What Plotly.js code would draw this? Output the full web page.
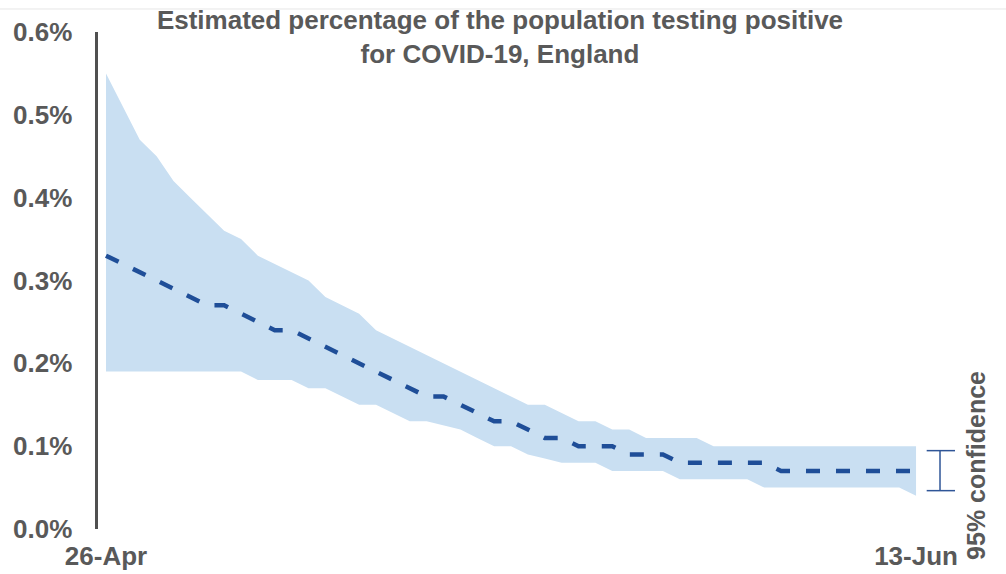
<!DOCTYPE html>
<html><head><meta charset="utf-8">
<script src="https://cdn.plot.ly/plotly-3.0.1.min.js"></script>
<style>html,body{margin:0;padding:0;background:#fff}#chart{width:1006px;height:574px}</style>
</head><body><div id="chart"></div>
<script>
// Daily estimates, 26-Apr to 13-Jun (% of population testing positive)
const upper = [0.55,0.51,0.47,0.45,0.42,0.40,0.38,0.36,0.35,0.33,0.32,0.31,0.30,0.28,0.27,0.26,0.24,0.23,0.22,0.21,
               0.20,0.19,0.18,0.17,0.16,0.15,0.15,0.14,0.13,0.13,0.12,0.12,0.11,0.11,0.11,0.11,0.10,0.10,0.10,0.10,
               0.10,0.10,0.10,0.10,0.10,0.10,0.10,0.10,0.10];
const mid   = [0.33,0.32,0.31,0.30,0.29,0.28,0.27,0.27,0.26,0.25,0.24,0.24,0.23,0.22,0.21,0.20,0.19,0.18,0.17,0.16,
               0.16,0.15,0.14,0.13,0.13,0.12,0.11,0.11,0.10,0.10,0.10,0.09,0.09,0.09,0.08,0.08,0.08,0.08,0.08,0.08,
               0.07,0.07,0.07,0.07,0.07,0.07,0.07,0.07,0.07];
const lower = [0.19,0.19,0.19,0.19,0.19,0.19,0.19,0.19,0.19,0.18,0.18,0.18,0.17,0.17,0.16,0.15,0.15,0.14,0.13,0.13,
               0.125,0.12,0.11,0.10,0.10,0.09,0.085,0.08,0.08,0.08,0.07,0.07,0.07,0.07,0.06,0.06,0.06,0.06,0.06,0.05,
               0.05,0.05,0.05,0.05,0.05,0.05,0.05,0.05,0.04];
const xTickLabels = ['26-Apr', '13-Jun'];
const yTickValues = [0, 0.1, 0.2, 0.3, 0.4, 0.5, 0.6];
const yTickLabels = ['0.0%', '0.1%', '0.2%', '0.3%', '0.4%', '0.5%', '0.6%'];
const titleText = 'Estimated percentage of the population testing positive<br>for COVID-19, England';
const legendText = '95% confidence';

const days = mid.map((_, i) => i);
const grey = '#595959';
const fam = 'Liberation Sans, Arial, sans-serif';
const txtFont = {family: fam, size: 26, color: grey, weight: 700};

const traces = [
  {x: days, y: lower, mode: 'lines', line: {width: 0, color: 'rgba(0,0,0,0)'}, hoverinfo: 'skip', showlegend: false},
  {x: days, y: upper, mode: 'lines', line: {width: 0, color: 'rgba(0,0,0,0)'}, fill: 'tonexty',
   fillcolor: '#C9DFF2', hoverinfo: 'skip', showlegend: false},
  {x: days, y: mid, mode: 'lines', line: {color: '#1F4E98', width: 4.5, dash: '14px,16px'}, showlegend: false}
];

const barX = 49.42, capL = 48.63, capR = 50.31, barLo = 0.0463, barHi = 0.0946;
const barStyle = {color: '#2F5597', width: 1.5};

const layout = {
  width: 1006, height: 574,
  margin: {l: 98, r: 0, t: 32, b: 45, pad: 0},
  paper_bgcolor: '#fff', plot_bgcolor: '#fff',
  title: {text: titleText, x: 0.497, xref: 'container', xanchor: 'center',
          y: 1 - 29 / 574, yref: 'container', yanchor: 'middle', font: {family: fam, size: 26, color: grey, weight: 700}},
  xaxis: {range: [-0.474, 53.33], showgrid: false, zeroline: false, showline: false, ticks: '',
          tickvals: [0, days.length - 1], ticktext: xTickLabels, tickfont: txtFont, ticklabelstandoff: 9},
  yaxis: {range: [0, 0.6], showgrid: false, zeroline: false, showline: true, linecolor: '#505050', linewidth: 3.5,
          ticks: '', tickvals: yTickValues, ticktext: yTickLabels, tickfont: txtFont, ticklabelstandoff: 17},
  shapes: [
    {type: 'line', xref: 'paper', yref: 'paper', x0: -0.108, x1: 1, y0: 1.0463, y1: 1.0463, line: {color: '#e6e6e6', width: 1}},
    {type: 'line', xref: 'x', yref: 'y', x0: barX, x1: barX, y0: barLo, y1: barHi, line: barStyle},
    {type: 'line', xref: 'x', yref: 'y', x0: capL, x1: capR, y0: barLo, y1: barLo, line: barStyle},
    {type: 'line', xref: 'x', yref: 'y', x0: capL, x1: capR, y0: barHi, y1: barHi, line: barStyle}
  ],
  annotations: [
    {text: legendText, xref: 'x', yref: 'y', x: 51.55, y: 0.0773, textangle: -90, showarrow: false,
     xanchor: 'center', yanchor: 'middle', font: {family: fam, size: 25, color: grey, weight: 700}}
  ]
};

Plotly.newPlot('chart', traces, layout, {displayModeBar: false, staticPlot: true});
</script>
</body></html>
